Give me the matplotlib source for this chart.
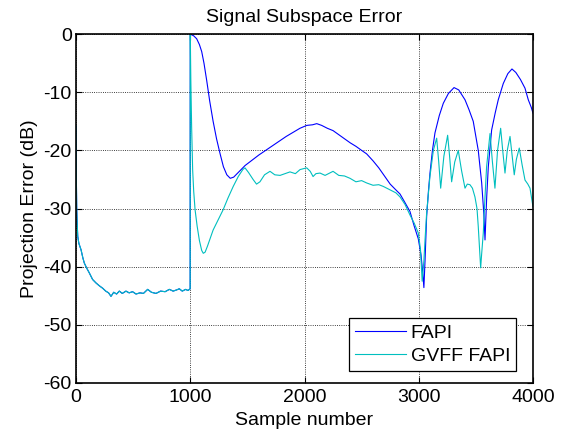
import matplotlib.pyplot as plt

# * ----- Data -----------------------------------------------------------------
# shared start (both algorithms track each other up to sample 1000)
init_x = [0, 3, 6, 10, 15, 25, 44, 60, 73, 95, 117, 145, 175, 205, 233, 260, 285,
          306, 330, 355, 379, 405, 437, 465, 495, 525, 560, 590, 627, 660, 700,
          740, 780, 817, 850, 880, 904, 930, 960, 980, 999]
init_y = [-15.8, -25, -30, -32.5, -34.8, -36, -37.1, -38.5, -39.4, -40.3, -41.1,
          -42.2, -42.8, -43.3, -43.7, -44.2, -44.5, -45.1, -44.4, -44.7, -44.2,
          -44.6, -44.2, -44.5, -44.3, -44.7, -44.5, -44.6, -43.9, -44.4, -44.6,
          -44.2, -44.3, -43.9, -44.2, -44.0, -43.8, -44.2, -43.9, -44.1, -43.8]

fapi_x = init_x + [1000, 1030, 1056, 1080, 1100, 1120, 1144, 1170, 1200, 1230, 1260,
                   1290, 1320, 1350, 1380, 1420, 1480, 1540, 1600, 1660, 1720, 1780,
                   1840, 1900, 1960, 2020, 2070, 2107, 2150, 2200, 2250, 2300, 2350,
                   2400, 2450, 2500, 2544, 2600, 2650, 2700, 2750, 2800, 2836, 2880,
                   2923, 2960, 2996, 3020, 3035, 3045, 3055, 3069, 3085, 3098, 3120,
                   3142, 3180, 3215, 3260, 3309, 3350, 3405, 3440, 3477, 3521, 3551,
                   3570, 3580, 3595, 3609, 3638, 3670, 3696, 3740, 3780, 3816, 3850,
                   3890, 3930, 3959, 3985, 4000]
fapi_y = init_y + [0, -0.3, -0.8, -1.8, -3, -5, -8, -11.5, -15, -18, -20.5,
                   -22.8, -24.2, -24.8, -24.6, -23.8, -22.6, -21.7, -20.8, -20, -19.2, -18.4,
                   -17.6, -16.9, -16.2, -15.7, -15.6, -15.4, -15.7, -16.2, -16.6, -17.3, -18,
                   -18.7, -19.3, -20, -20.6, -21.8, -23, -24.4, -25.8, -26.8, -27.5, -29,
                   -30.5, -33, -35.2, -38, -41, -43.6, -39, -31.4, -27, -24, -20,
                   -17, -14, -11.9, -10.2, -9.2, -9.6, -11.3, -13, -15, -20, -25.6,
                   -31, -35.4, -28, -22.8, -16.5, -13.5, -11.3, -8.5, -6.8, -6.0, -6.6,
                   -7.8, -9.3, -11.3, -12.6, -13.6]

gvff_x = init_x + [1000, 1005, 1012, 1021, 1030, 1042, 1060, 1080, 1100, 1114, 1130,
                   1150, 1200, 1250, 1288, 1330, 1376, 1420, 1460, 1479, 1510, 1550,
                   1580, 1610, 1650, 1698, 1740, 1786, 1830, 1873, 1920, 1961, 2019,
                   2050, 2075, 2100, 2136, 2180, 2250, 2300, 2350, 2398, 2450, 2500,
                   2544, 2600, 2650, 2690, 2750, 2800, 2836, 2880, 2923, 2960, 2996,
                   3015, 3030, 3045, 3055, 3069, 3098, 3128, 3157, 3175, 3192, 3220,
                   3253, 3270, 3288, 3315, 3346, 3375, 3405, 3425, 3448, 3470, 3492,
                   3510, 3521, 3535, 3542, 3550, 3565, 3580, 3594, 3624, 3645, 3667,
                   3690, 3717, 3735, 3755, 3775, 3799, 3818, 3836, 3855, 3880, 3905,
                   3930, 3955, 3974, 4000]
gvff_y = init_y + [0, -8, -16, -23.4, -27, -30.2, -33, -35.5, -37.2, -37.7, -37.5,
                   -36.5, -33.7, -31.7, -30.2, -28.2, -26.2, -24.5, -23.3, -23.0, -23.8, -25,
                   -25.8, -25.4, -24.2, -23.6, -24.2, -24.3, -24, -23.7, -24.0, -23.3, -23.0,
                   -23.6, -24.5, -24.0, -23.9, -24.3, -23.6, -24.3, -24.4, -24.8, -25.4, -25.2,
                   -25.6, -26.0, -25.9, -26.2, -26.8, -27.3, -28.0, -29.3, -31.1, -32.5, -34.2,
                   -37, -42.5, -39, -35.4, -30.8, -24.5, -20, -17.9, -22, -26.5, -21,
                   -17.4, -21, -25.4, -22, -20, -23.5, -26.5, -25.8, -25.9, -26.5, -28,
                   -30, -33.1, -38, -40.2, -38, -34.2, -28, -22.8, -17.1, -22, -26.5,
                   -20, -16.2, -20, -23.9, -20, -17.6, -21, -24.2, -21.5, -19.6, -22.5,
                   -25.1, -25.8, -26.5, -29.7]

x_ticks = [0, 1000, 2000, 3000, 4000]
y_ticks = [-60, -50, -40, -30, -20, -10, 0]

# * ----- Plot -----------------------------------------------------------------
plt.rcParams['font.family'] = ['Liberation Sans', 'DejaVu Sans']
plt.rcParams['axes.unicode_minus'] = False
FS = 14

fig = plt.figure(figsize=(5.64, 4.37), dpi=100)
ax = fig.add_axes([0.1348, 0.1236, 0.8102, 0.7984])

ax.plot(fapi_x, fapi_y, color='#0000ff', lw=0.8, label='FAPI')
ax.plot(gvff_x, gvff_y, color='#00bfbf', lw=0.8, label='GVFF FAPI')

ax.set_xlim(0, 4000)
ax.set_ylim(-60, 0)
ax.set_xticks(x_ticks)
ax.set_yticks(y_ticks)
ax.tick_params(direction='in', top=True, right=True, length=4, width=0.8, labelsize=FS)
ax.tick_params(axis='x', pad=4.5)
ax.tick_params(axis='y', pad=3)
ax.grid(True, color='k', linestyle=':', linewidth=0.6)
for s in ax.spines.values():
    s.set_linewidth(1.2)

ax.set_xlabel('Sample number', fontsize=FS, labelpad=4)
ax.set_ylabel('Projection Error (dB)', fontsize=FS, labelpad=4)
ax.set_title('Signal Subspace Error', fontsize=FS, pad=9)

leg = ax.legend(loc='lower right', bbox_to_anchor=(0.963, 0.034), borderaxespad=0,
                fontsize=FS, handlelength=2.6, fancybox=False, framealpha=1,
                edgecolor='k', borderpad=0.3, labelspacing=0.3, handletextpad=0.25)
leg.get_frame().set_linewidth(0.9)

fig.savefig('out.png', dpi=100, facecolor='white')
